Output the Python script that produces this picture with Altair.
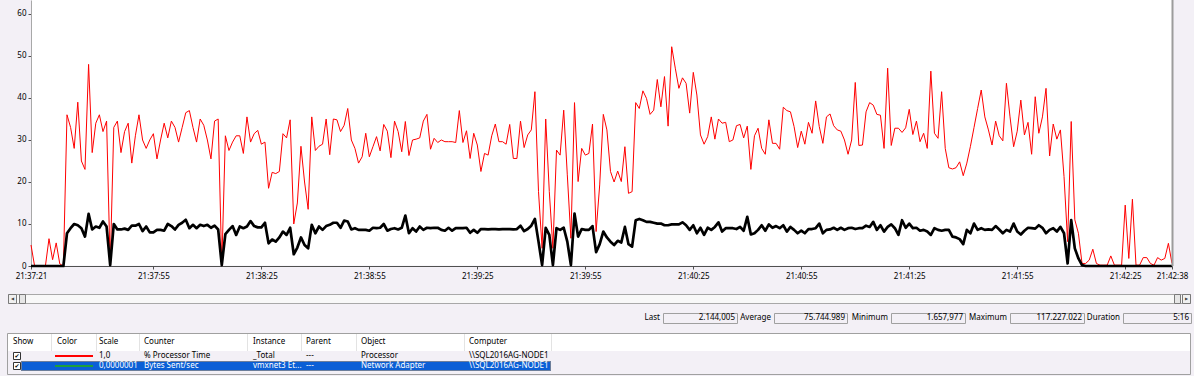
import json
import altair as alt
import pandas as pd

FONT = "Noto Sans"
BG = "#F3F0F6"
AXIS = "#505050"

# ---------------- data ----------------
# % Processor Time (_Total), one sample per second from 21:37:21
cpu_processor_time = [
    5, 0, 0, 0, 0, 6.5, 1.5, 5.5, 0.5, 0,
    36, 33, 28, 39, 25, 23, 48, 27, 34, 36,
    32, 34.5, 0, 33, 34.5, 27, 32, 34, 24.5, 31,
    36, 30, 28, 30, 31.5, 25.5, 30, 34, 30.5, 34.5,
    33, 29.5, 33, 36.5, 37, 33, 29.5, 35, 33.5, 30,
    25.5, 34.5, 35, 0, 31, 27.5, 29.5, 31, 31, 26.8,
    35.5, 29.5, 31.5, 32.3, 29, 29.5, 18.5, 22.3, 22, 22.5,
    31.5, 30.5, 34.8, 10, 15, 28.5, 20, 13.5, 35.5, 27.5,
    28.5, 29, 35, 26.5, 35, 34.8, 32, 33.5, 37.5, 30,
    28, 24.5, 26, 31.6, 26, 28.4, 30.8, 27.4, 33.7, 32.1,
    25.8, 34.5, 32, 27.2, 34.4, 26.3, 30, 30.2, 30.5, 34.5,
    36.1, 27.8, 30.4, 29.4, 30, 29.6, 29.6, 29.6, 29.4, 37,
    29.4, 32.2, 25.6, 31.6, 28.8, 22.5, 26.8, 26.4, 31, 33.8,
    29.6, 29.6, 29, 33.7, 25.6, 25.6, 34.5, 28.2, 31.2, 32.4,
    41.5, 17.7, 4.2, 35, 17.7, 4.2, 27.6, 26.4, 37.1, 21.7,
    6.6, 38.9, 20.1, 28, 26.4, 26.8, 33.8, 8.2, 19.3, 36.1,
    32.4, 22.5, 20, 22.6, 20.1, 28.4, 17.3, 17.7, 38.9, 37.5,
    41.7, 39.9, 36.1, 37.1, 44.4, 37.9, 45.1, 33.3, 52.2, 47.1,
    42.3, 44.8, 43.5, 36.4, 46.1, 40.7, 31.2, 29, 30.8, 35.5,
    30.2, 35, 34, 34.2, 29.6, 30, 33.4, 33.7, 30.5, 33.3,
    23, 31, 32.8, 28, 26.6, 34.8, 29.2, 29.2, 27.8, 37.8,
    37, 36.7, 33.2, 28.2, 32.1, 29, 34.2, 31.6, 39.3, 33.2,
    29.2, 35.5, 36.2, 33.4, 32.4, 32.1, 30, 26.6, 30, 43.7,
    28.7, 28.8, 36.7, 38.9, 38.3, 36.1, 35.9, 28, 47.1, 28.7,
    32.8, 32.8, 31.8, 32.9, 37.3, 31.3, 34.5, 29.6, 31.6, 28,
    46.4, 31.6, 30.4, 41.5, 28, 23.4, 23.1, 23.4, 24.8, 21.5,
    24.5, 28.5, 33, 37.5, 41.9, 35.5, 32.4, 28.8, 34.5, 31,
    29.8, 43.5, 35.5, 28.4, 32.1, 39.5, 31.2, 34.2, 26.6, 40.3,
    31.6, 35.5, 42.3, 26.2, 33.8, 30.2, 32.4, 21.3, 5.8, 34.4,
    11, 7.8, 0.6, 0.6, 1.4, 4, 0.6, 0.2, 0.2, 0.2,
    2.4, 0.2, 0.2, 0.2, 14.5, 1.8, 15.9, 0.2, 0.2, 2,
    2, 0.6, 0.2, 2, 1.4, 1.8, 5.4, 0.6,
]

# Bytes Sent/sec (vmxnet3), shown at scale 0.0000001
bytes_sent_scaled = [
    0, 0, 0, 0, 0, 0, 0, 0, 0, 0,
    7.8, 9, 10, 9.7, 9, 7, 12.4, 8.7, 9.4, 9.1,
    10.6, 9.4, 0.2, 10, 8.7, 8.7, 8.9, 8.6, 9.6, 9.6,
    10, 8.3, 9.4, 8, 8, 8.6, 8.6, 8.4, 10, 9.5,
    8.7, 9.8, 10.3, 11, 9, 9.8, 9, 9.8, 9.5, 9.8,
    9.1, 9.6, 8.7, 0.2, 7.6, 8.6, 9.5, 7.4, 9.4, 9,
    9.4, 10.7, 9.5, 9.2, 9.2, 10.3, 5.4, 6.3, 5.8, 6.8,
    8.2, 7.4, 9.1, 2.8, 4.4, 6.8, 5, 4.2, 9.8, 7.8,
    9.4, 8.6, 9.5, 9.8, 10.3, 10.3, 9.1, 10.8, 10.6, 8.7,
    9, 8.6, 8.6, 8.6, 8.4, 9.1, 9, 9.1, 10, 8.4,
    8.8, 9, 8.7, 9.1, 12, 7.8, 9, 8.2, 9.4, 8.6,
    9.1, 9, 9.1, 9.1, 8.6, 8.4, 9.1, 8.4, 9, 9,
    9, 9.1, 7.9, 8.6, 7.9, 8.8, 8.8, 8.7, 8.8, 8.8,
    8.7, 8.8, 8.8, 8.8, 8.7, 8.8, 9.6, 8.3, 8.8, 9.6,
    11.2, 5.8, 0.2, 9.1, 7.4, 0.2, 9, 8.6, 9.1, 5.8,
    0.2, 12.5, 7, 8.8, 8.6, 8.6, 9.5, 3.3, 5.2, 8.2,
    6.8, 5.8, 5, 6, 5.6, 9.3, 5.2, 4.6, 10.9, 11.2,
    10.9, 10.5, 10.5, 10.3, 10.1, 10.1, 9.7, 9.7, 9.9, 9.9,
    9.9, 10.4, 9.7, 8.6, 9.7, 7.8, 9.1, 7.4, 9.1, 8.6,
    9.3, 10.4, 8.2, 9, 9, 9, 8.8, 9.3, 8.4, 11.7,
    7.5, 7.8, 8.6, 9.7, 8.4, 9.9, 9.1, 9.5, 9, 9.7,
    8.2, 9.3, 8.6, 7.8, 8.4, 7.8, 8.8, 8.8, 9, 10.1,
    7.8, 8.6, 8.7, 9.1, 8.6, 9.1, 8.6, 9, 9.1, 8.8,
    9, 9, 9.6, 9.3, 10.5, 8.6, 9.7, 8.2, 9.3, 9.9,
    9, 7.4, 10.9, 9.1, 10.1, 9, 9.1, 8.4, 8.6, 8.2,
    7.4, 9, 8.6, 8.4, 8.6, 8.6, 7, 6.8, 6.4, 5.2,
    8.6, 7.8, 10.1, 8.6, 9, 8.6, 8.7, 8.6, 9.5, 8.7,
    7.8, 8.6, 8.2, 10.1, 8.2, 7.5, 8.4, 9.1, 9, 8.9,
    9.7, 9.1, 7.8, 8.6, 9, 8.2, 9.3, 7.8, 0.6, 10.9,
    4.2, 1.8, 0.2, 0, 0, 0, 0, 0, 0, 0,
    0, 0, 0, 0, 0, 0, 0, 0, 0, 0,
    0, 0, 0, 0, 0, 0, 0, 0,
]

tick_seconds = [0, 34, 64, 94, 124, 154, 184, 214, 244, 274, 304, 317]
tick_labels = ["21:37:21", "21:37:55", "21:38:25", "21:38:55", "21:39:25", "21:39:55",
               "21:40:25", "21:40:55", "21:41:25", "21:41:55", "21:42:25", "21:42:38"]
y_ticks = [0, 10, 20, 30, 40, 50, 60]

stat_names = ["Last", "Average", "Minimum", "Maximum", "Duration"]
stat_values = ["2.144,005", "75.744.989", "1.657,977", "117.227.022", "5:16"]

table_headers = ["Show", "Color", "Scale", "Counter", "Instance", "Parent", "Object", "Computer"]
row_processor = ["1,0", "% Processor Time", "_Total", "---", "Processor", "\\\\SQL2016AG-NODE1"]
row_network = ["0,0000001", "Bytes Sent/sec", "vmxnet3 Et...", "---", "Network Adapter", "\\\\SQL2016AG-NODE1"]
series_colors = ["#FF0000", "#1E9E3C"]

# ---------------- layout (pixels) ----------------
PLOT_L, PLOT_R, PLOT_B = 31, 1172, 266
W, H = 1194, 376
col_x = [13, 57, 99, 144, 253, 306, 361, 469]
col_sep = [51, 96, 139, 247, 301, 356, 464, 551]
box_l = [663, 774, 891, 1010, 1123]
box_r = [737, 847, 965, 1084, 1191]
STAT_Y = 318
HEAD_Y = 342
ROW_Y = [356, 366]

DUMMY = alt.Data(values=[{"k": 0}])


def rect(x, x2, y, y2, fill="transparent", stroke=None, sw=1, dash=None):
    kw = dict(fill=fill)
    if stroke:
        kw.update(stroke=stroke, strokeWidth=sw)
    if dash:
        kw.update(strokeDash=dash)
    return alt.Chart(DUMMY).mark_rect(**kw).encode(
        x=alt.value(x), x2=alt.value(x2), y=alt.value(y), y2=alt.value(y2))


def rule(x, x2, y, y2, color, sw=1):
    return alt.Chart(DUMMY).mark_rule(color=color, strokeWidth=sw).encode(
        x=alt.value(x), x2=alt.value(x2), y=alt.value(y), y2=alt.value(y2))


def text(s, x, y, align="left", color="#000000", size=8, font=FONT, weight="normal"):
    return alt.Chart(DUMMY).mark_text(
        align=align, baseline="middle", fontSize=size, font=font, color=color, fontWeight=weight
    ).encode(x=alt.value(x), y=alt.value(y), text=alt.value(s))


# ---------------- plot ----------------
df_cpu = pd.DataFrame({"t": list(range(len(cpu_processor_time))), "v": cpu_processor_time})
df_net = pd.DataFrame({"t": list(range(len(bytes_sent_scaled))), "v": bytes_sent_scaled})

label_expr = f"{json.dumps(tick_labels)}[indexof({json.dumps(tick_seconds)}, datum.value)]"

x_enc = alt.X(
    "t:Q",
    scale=alt.Scale(domain=[0, 317], range=[PLOT_L, PLOT_R], nice=False, zero=False),
    axis=alt.Axis(values=tick_seconds, labelExpr=label_expr, orient="bottom", offset=-(H - PLOT_B),
                  title=None, grid=False, tickSize=3, tickColor=AXIS, domainColor=AXIS,
                  labelFont=FONT, labelFontSize=8, labelColor="#000000", labelPadding=3,
                  labelAlign="center", labelFlush=False, labelOverlap=False, labelBound=False),
)
y_enc = alt.Y(
    "v:Q",
    scale=alt.Scale(domain=[0, 63.33], range=[PLOT_B, 0], nice=False, zero=False),
    axis=alt.Axis(values=y_ticks, orient="left", offset=-PLOT_L, title=None, grid=False,
                  tickSize=3, tickColor=AXIS, domainColor=AXIS, labelFont=FONT, labelFontSize=8,
                  labelColor="#000000", labelPadding=2, labelFlush=False, labelOverlap=False,
                  labelBound=False),
)

layers = [rect(PLOT_L + 0.5, PLOT_R, 0, PLOT_B - 0.5, fill="#FFFFFF")]
layers.append(alt.Chart(df_cpu).mark_line(color="#FF0000", strokeWidth=1).encode(x=x_enc, y=y_enc))
layers.append(alt.Chart(df_net).mark_line(color="#000000", strokeWidth=2.7, strokeJoin="round")
              .encode(x=x_enc, y=y_enc))
layers.append(rule(PLOT_R + 0.5, PLOT_R + 0.5, 0, PLOT_B, "#9C9C9C", 2))

# ---------------- scrollbar ----------------
layers += [
    rect(8.5, 1190.5, 294.5, 303.5, fill="#F8F8F8", stroke="#A8A8A8"),
    rect(8.5, 16.5, 294.5, 303.5, fill="#F0F0F0", stroke="#7A7A7A"),
    text("\u25C0", 12.5, 299, align="center", color="#404040", size=4, font="DejaVu Sans"),
    rect(19.5, 25.5, 294.5, 303.5, fill="#E6E6E6", stroke="#7A7A7A"),
    rect(1174.5, 1180.5, 294.5, 303.5, fill="#E6E6E6", stroke="#7A7A7A"),
    rect(1182.5, 1190.5, 294.5, 303.5, fill="#F0F0F0", stroke="#7A7A7A"),
    text("\u25B6", 1186.5, 299, align="center", color="#404040", size=4, font="DejaVu Sans"),
]

# ---------------- statistics row ----------------
for name, val, l, r in zip(stat_names, stat_values, box_l, box_r):
    layers.append(rect(l + 0.5, r + 0.5, 313.5, 323.5, stroke="#A0A0A0"))
    layers.append(text(name, l - 3, STAT_Y, align="right"))
    layers.append(text(val, r - 2, STAT_Y, align="right"))

# ---------------- counter table ----------------
layers.append(rect(7.5, 1190.5, 333.5, 374.5, fill=BG, stroke="#A0A0A0"))
layers.append(rect(8, 1190, 334, 351, fill="#FFFFFF"))
for sx in col_sep:
    layers.append(rule(sx + 0.5, sx + 0.5, 334, 351, "#E3E3E3"))
for h, cx in zip(table_headers, col_x):
    layers.append(text(h, cx, HEAD_Y))

# selected row highlight
layers.append(rect(21, 551, 361, 371, fill="#0B5FD6"))
layers.append(rect(21.5, 550.5, 361.5, 370.5, stroke="#D0A060", dash=[1, 1]))

for ri, (row, ry) in enumerate(zip([row_processor, row_network], ROW_Y)):
    col = "#000000" if ri == 0 else "#FFFFFF"
    layers.append(rect(13.5, 20.5, ry - 3.5, ry + 3.5, fill="#FFFFFF", stroke="#333333"))
    layers.append(text("\u2714", 17, ry, align="center", size=6, font="DejaVu Sans", color="#000000"))
    layers.append(rule(55, 93, ry, ry, series_colors[ri], 2))
    for val, cx in zip(row, col_x[2:]):
        layers.append(text(val, cx, ry, color=col))

chart = alt.layer(*layers).properties(
    width=W, height=H, background=BG, padding=0,
    autosize=alt.AutoSizeParams(type="none"),
).configure_view(strokeWidth=0)

chart.save("out.html", embed_options={"renderer": "svg", "actions": False})
